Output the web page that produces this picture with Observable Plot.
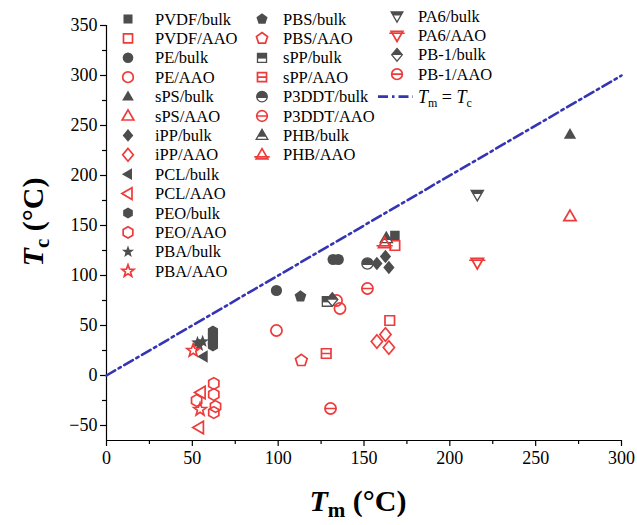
<!DOCTYPE html>
<html><head><meta charset="utf-8">
<script src="https://cdn.jsdelivr.net/npm/d3@7"></script>
<script src="https://cdn.jsdelivr.net/npm/@observablehq/plot@0.6"></script>
<style>
body{margin:0;background:#fff;}
#wrap{position:relative;width:637px;height:525px;}
</style></head><body><div id="wrap"></div>
<script>
// ---------- data (Tm, Tc in °C) ----------
const PVDF_bulk = [[168, 140]];
const PVDF_AAO  = [[168, 130], [165, 55]];
const PE_bulk   = [[132, 116], [135, 116], [99, 85]];
const PE_AAO    = [[99, 45], [134, 75], [136, 67]];
const sPS_bulk  = [[270, 241]];
const sPS_AAO   = [[270, 159]];
const iPP_bulk  = [[162.5, 119], [157.5, 112], [164.5, 108]];
const iPP_AAO   = [[162.5, 41], [157.5, 34], [164.5, 28]];
const PCL_bulk  = [[56.5, 19]];
const PCL_AAO   = [[55, -17], [54, -52]];
const PEO_bulk  = [[62, 44], [62, 39], [62, 34], [62, 30]];
const PEO_AAO   = [[62.5, -8], [62.5, -19], [52.5, -25], [63.5, -31], [62.5, -37]];
const PBA_bulk  = [[53, 33], [56, 34], [54, 30]];
const PBA_AAO   = [[50.5, 25], [54.5, -34]];
const PBS_bulk  = [[113, 79]];
const PBS_AAO   = [[113.5, 15]];
const sPP_bulk  = [[128.5, 74]];
const sPP_AAO   = [[128, 22]];
const P3DDT_bulk = [[152, 112]];
const P3DDT_AAO  = [[152, 87]];
const PHB_bulk  = [[163, 137]];
const PHB_AAO   = [[162, 132]];
const PA6_bulk  = [[216, 181]];
const PA6_AAO   = [[216, 113]];
const PB1_bulk  = [[131.5, 76]];
const PB1_AAO   = [[130.5, -33]];

const identityLine = [0, 300];          // Tm = Tc reference
const xTicks = [0, 50, 100, 150, 200, 250, 300];
const xMinor = [25, 75, 125, 175, 225, 275];
const yTicks = [-50, 0, 50, 100, 150, 200, 250, 300, 350];
const yMinor = [-25, 25, 75, 125, 175, 225, 275, 325];
const xDomain = [0, 300];
const yDomain = [-65, 350];

// ---------- symbols ----------
function shape(fn){ return {draw(ctx, size){ const r = Math.sqrt(size/Math.PI); fn(ctx, r); }}; }
function polyPath(ctx, r, pts){ pts.forEach(([x,y],i)=> i ? ctx.lineTo(x*r,y*r) : ctx.moveTo(x*r,y*r)); ctx.closePath(); }
const H = 0.85;
const P_square = [[-H,-H],[H,-H],[H,H],[-H,H]];
const P_triUp = [[0,-1.15],[1.1,0.75],[-1.1,0.75]];
const P_triDown = [[-1.1,-0.75],[1.1,-0.75],[0,1.15]];
const P_triLeft = [[-1.15,0],[0.75,-1.1],[0.75,1.1]];
const P_diamond = [[0,-1.2],[1.0,0],[0,1.2],[-1.0,0]];
const P_hex = d3.range(6).map(k => { const a = -Math.PI/2 + k*Math.PI/3; return [1.05*Math.cos(a), 1.05*Math.sin(a)]; });
const P_pent = d3.range(5).map(k => { const a = -Math.PI/2 + k*2*Math.PI/5; return [1.1*Math.cos(a), 1.1*Math.sin(a)]; });
const P_star = d3.range(10).map(k => { const a = -Math.PI/2 + k*Math.PI/5, rr = k%2 ? 0.5 : 1.2; return [rr*Math.cos(a), rr*Math.sin(a)]; });
const circlePath = (ctx, r) => { ctx.moveTo(r,0); ctx.arc(0,0,r,0,2*Math.PI); ctx.closePath(); };

const S = {
  square: shape((c,r)=>polyPath(c,r,P_square)),
  circle: shape((c,r)=>circlePath(c,r)),
  triUp: shape((c,r)=>polyPath(c,r,P_triUp)),
  triDown: shape((c,r)=>polyPath(c,r,P_triDown)),
  triLeft: shape((c,r)=>polyPath(c,r,P_triLeft)),
  diamond: shape((c,r)=>polyPath(c,r,P_diamond)),
  hex: shape((c,r)=>polyPath(c,r,P_hex)),
  pent: shape((c,r)=>polyPath(c,r,P_pent)),
  star: shape((c,r)=>polyPath(c,r,P_star)),
  squareTop: shape((c,r)=>polyPath(c,r,[[-H,-H],[H,-H],[H,0.15],[-H,0.15]])),
  circleTop: shape((c,r)=>{ c.arc(0,0,r,Math.PI-0.25,2*Math.PI+0.25); c.closePath(); }),
  triUpTop: shape((c,r)=>polyPath(c,r,[[0,-1.15],[0.81,0.25],[-0.81,0.25]])),
  triDownTop: shape((c,r)=>polyPath(c,r,[[-1.1,-0.75],[1.1,-0.75],[0.72,-0.1],[-0.72,-0.1]])),
  diamondTop: shape((c,r)=>polyPath(c,r,[[0,-1.2],[1.0,0.05],[-1.0,0.05]])),
  squareLine: shape((c,r)=>{ polyPath(c,r,P_square); c.moveTo(-H*r,0); c.lineTo(H*r,0); }),
  circleLine: shape((c,r)=>{ circlePath(c,r); c.moveTo(-r,0); c.lineTo(r,0); }),
  triUpLine: shape((c,r)=>{ polyPath(c,r,P_triUp); c.moveTo(-1.45*r,0.4*r); c.lineTo(1.45*r,0.4*r); }),
  triDownLine: shape((c,r)=>{ polyPath(c,r,P_triDown); c.moveTo(-1.45*r,-0.4*r); c.lineTo(1.45*r,-0.4*r); })
};

const GRAY = "#4d4d4d", RED = "#ef3a3a", BLUE = "#3434b4";

// name, data, symbol, kind ('fill' gray solid, 'half' gray partial, 'open' red outline)
const series = [
  ["PVDF/bulk", PVDF_bulk, "square", "fill"],
  ["PVDF/AAO", PVDF_AAO, "square", "open"],
  ["PE/bulk", PE_bulk, "circle", "fill"],
  ["PE/AAO", PE_AAO, "circle", "open"],
  ["sPS/bulk", sPS_bulk, "triUp", "fill"],
  ["sPS/AAO", sPS_AAO, "triUp", "open"],
  ["iPP/bulk", iPP_bulk, "diamond", "fill"],
  ["iPP/AAO", iPP_AAO, "diamond", "open"],
  ["PCL/bulk", PCL_bulk, "triLeft", "fill"],
  ["PCL/AAO", PCL_AAO, "triLeft", "open"],
  ["PEO/bulk", PEO_bulk, "hex", "fill"],
  ["PEO/AAO", PEO_AAO, "hex", "open"],
  ["PBA/bulk", PBA_bulk, "star", "fill"],
  ["PBA/AAO", PBA_AAO, "star", "open"],
  ["PBS/bulk", PBS_bulk, "pent", "fill"],
  ["PBS/AAO", PBS_AAO, "pent", "open"],
  ["sPP/bulk", sPP_bulk, "square|squareTop", "half"],
  ["sPP/AAO", sPP_AAO, "squareLine", "open"],
  ["P3DDT/bulk", P3DDT_bulk, "circle|circleTop", "half"],
  ["P3DDT/AAO", P3DDT_AAO, "circleLine", "open"],
  ["PHB/bulk", PHB_bulk, "triUp|triUpTop", "half"],
  ["PHB/AAO", PHB_AAO, "triUpLine", "open"],
  ["PA6/bulk", PA6_bulk, "triDown|triDownTop", "half"],
  ["PA6/AAO", PA6_AAO, "triDownLine", "open"],
  ["PB-1/bulk", PB1_bulk, "diamond|diamondTop", "half"],
  ["PB-1/AAO", PB1_AAO, "circleLine", "open"]
];

const R = 5.6;
function dotMarks(data, sym, kind, opts = {}){
  const base = {x: d => d[0], y: d => d[1], r: R, ...opts};
  if (kind === "fill") return [Plot.dot(data, {...base, symbol: S[sym], fill: GRAY, stroke: "none"})];
  if (kind === "open") return [Plot.dot(data, {...base, symbol: S[sym], fill: "none", stroke: RED, strokeWidth: 1.7})];
  const [a, b] = sym.split("|");
  return [
    Plot.dot(data, {...base, symbol: S[a], fill: "white", stroke: GRAY, strokeWidth: 1.3}),
    Plot.dot(data, {...base, symbol: S[b], fill: GRAY, stroke: "none"})
  ];
}

const serif = "'Liberation Serif','Times New Roman',serif";
const chart = Plot.plot({
  width: 637, height: 525,
  marginLeft: 106, marginRight: 16, marginTop: 25, marginBottom: 85,
  style: {fontFamily: serif, fontSize: "18px", color: "#000", background: "#fff"},
  x: {domain: xDomain},
  y: {domain: yDomain},
  marks: [
    Plot.axisX({ticks: xTicks, tickSize: 6, tickPadding: 5, label: null, fontSize: 18, fontFamily: serif, stroke: "#000", strokeWidth: 1.2}),
    Plot.axisX({ticks: xMinor, tickSize: 4, tickFormat: () => "", label: null, stroke: "#000", strokeWidth: 1.2}),
    Plot.axisY({ticks: yTicks, tickSize: 6, tickPadding: 3, label: null, fontSize: 18, fontFamily: serif, stroke: "#000", strokeWidth: 1.2}),
    Plot.axisY({ticks: yMinor, tickSize: 4, tickFormat: () => "", label: null, stroke: "#000", strokeWidth: 1.2}),
    Plot.ruleX([xDomain[0]], {stroke: "#000", strokeWidth: 1.2}),
    Plot.ruleY([yDomain[0]], {stroke: "#000", strokeWidth: 1.2}),
    Plot.line(identityLine, {x: d => d, y: d => d, stroke: BLUE, strokeWidth: 2.6, strokeDasharray: "10,4,2.5,4"}),
    ...series.flatMap(([name, data, sym, kind]) => dotMarks(data, sym, kind))
  ]
});
document.getElementById("wrap").appendChild(chart);

// ---------- titles & legend ----------
const svg = d3.select(chart);
const xt = svg.append("text").attr("x", 358).attr("y", 511).attr("text-anchor", "middle")
  .attr("font-family", serif).attr("font-weight", "bold").attr("font-size", 30).attr("fill", "#000");
xt.append("tspan").attr("font-style", "italic").text("T");
xt.append("tspan").attr("font-size", 21).attr("dy", 6).text("m");
xt.append("tspan").attr("dy", -6).text(" (°C)");

const yt = svg.append("text").attr("transform", "translate(43,222) rotate(-90)").attr("text-anchor", "middle")
  .attr("font-family", serif).attr("font-weight", "bold").attr("font-size", 30).attr("fill", "#000");
yt.append("tspan").attr("font-style", "italic").text("T");
yt.append("tspan").attr("font-size", 21).attr("dy", 6).text("c");
yt.append("tspan").attr("dy", -6).text(" (°C)");

const leg = svg.append("g").attr("font-family", serif).attr("font-size", 16.5).attr("fill", "#000").attr("text-anchor", "start");
const cols = [{sx: 128, tx: 155, y0: 19, n: 14}, {sx: 262, tx: 283, y0: 19, n: 8}, {sx: 397, tx: 418, y0: 16, n: 4}];
const step = 19.4;
let idx = 0;
function symPath(sym){ const p = d3.path(); S[sym].draw(p, R*R*Math.PI*0.9); return p.toString(); }
cols.forEach(col => {
  for (let i = 0; i < col.n; i++, idx++) {
    const [name, , sym, kind] = series[idx];
    const cy = col.y0 + i*step;
    const g = leg.append("g").attr("transform", `translate(${col.sx},${cy})`);
    if (kind === "fill") g.append("path").attr("d", symPath(sym)).attr("fill", GRAY);
    else if (kind === "open") g.append("path").attr("d", symPath(sym)).attr("fill", "none").attr("stroke", RED).attr("stroke-width", 1.7);
    else {
      const [a, b] = sym.split("|");
      g.append("path").attr("d", symPath(a)).attr("fill", "white").attr("stroke", GRAY).attr("stroke-width", 1.3);
      g.append("path").attr("d", symPath(b)).attr("fill", GRAY);
    }
    leg.append("text").attr("x", col.tx).attr("y", cy + 5.5).attr("text-anchor", "start").text(name);
  }
});
const ly = 16 + 4*step + 3;
leg.append("line").attr("x1", 378).attr("x2", 413).attr("y1", ly).attr("y2", ly)
  .attr("stroke", BLUE).attr("stroke-width", 2.6).attr("stroke-dasharray", "10,4,2.5,4");
const lt = leg.append("text").attr("x", 418).attr("y", ly + 6).attr("font-size", 18).attr("text-anchor", "start");
lt.append("tspan").attr("font-style", "italic").text("T");
lt.append("tspan").attr("font-size", 12).attr("dy", 4).text("m");
lt.append("tspan").attr("dy", -4).text(" = ");
lt.append("tspan").attr("font-style", "italic").text("T");
lt.append("tspan").attr("font-size", 12).attr("dy", 4).text("c");
</script>
</body></html>
